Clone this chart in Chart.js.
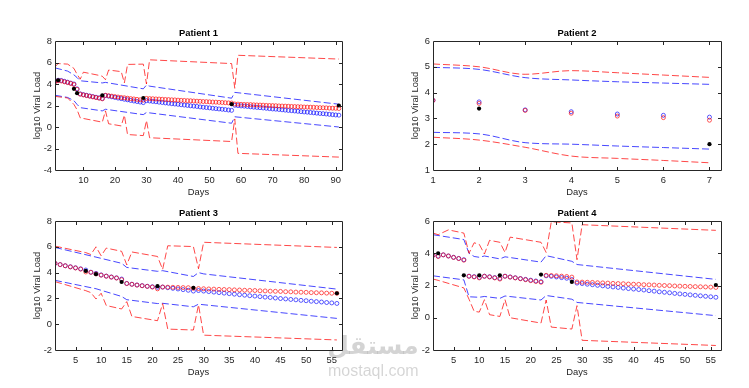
<!DOCTYPE html>
<html><head><meta charset="utf-8">
<script src="https://cdn.jsdelivr.net/npm/chart.js@4.4.0/dist/chart.umd.min.js"></script>
<style>
html,body{margin:0;padding:0;background:#fff;width:749px;height:388px;overflow:hidden;position:relative}
canvas{position:absolute}
.wm{position:absolute;color:rgba(0,0,0,0.17);pointer-events:none;white-space:nowrap;z-index:5}
</style></head><body>
<canvas id="c1" width="349" height="186" style="left:0px;top:16px"></canvas>
<canvas id="c2" width="350" height="186" style="left:378px;top:16px"></canvas>
<canvas id="c3" width="349" height="186" style="left:0px;top:196px"></canvas>
<canvas id="c4" width="350" height="186" style="left:378px;top:196px"></canvas>
<div class="wm" style="left:326px;top:331px;width:94px;text-align:center;font:bold 25px 'DejaVu Sans',sans-serif;line-height:30px">مستقل</div>
<div class="wm" style="left:328px;top:362px;font:16px 'Liberation Sans',Arial,sans-serif;line-height:18px">mostaql.com</div>
<script>
// ---------- Patient 1 (days 1..91) ----------
const p1Red = [4.20,4.30,4.28,4.20,4.13,4.05,3.95,3.50,3.05,2.98,
 2.92,2.86,2.80,2.74,2.68,2.62,2.95,2.91,2.87,2.83,
 2.79,2.75,2.72,2.68,2.64,2.61,2.57,2.53,2.50,2.66,
 2.64,2.63,2.61,2.60,2.58,2.56,2.55,2.53,2.52,2.50,
 2.48,2.47,2.45,2.44,2.42,2.40,2.39,2.37,2.36,2.34,
 2.32,2.31,2.29,2.28,2.26,2.24,2.23,2.14,2.13,2.11,
 2.10,2.09,2.08,2.06,2.05,2.04,2.03,2.01,2.00,1.99,
 1.98,1.96,1.95,1.94,1.93,1.91,1.90,1.89,1.88,1.86,
 1.85,1.84,1.83,1.81,1.80,1.79,1.78,1.76,1.75,1.74,
 1.72];
const p1Blue = [4.25,4.35,4.33,4.25,4.17,4.08,4.00,3.55,3.08,3.01,
 2.95,2.89,2.83,2.77,2.71,2.65,2.93,2.87,2.81,2.75,
 2.69,2.64,2.58,2.53,2.47,2.42,2.37,2.32,2.27,2.45,
 2.42,2.38,2.35,2.31,2.28,2.24,2.21,2.17,2.14,2.11,
 2.07,2.04,2.01,1.97,1.94,1.91,1.87,1.84,1.81,1.78,
 1.74,1.71,1.68,1.65,1.62,1.58,1.55,2.02,1.99,1.96,
 1.94,1.91,1.88,1.85,1.82,1.80,1.77,1.74,1.71,1.68,
 1.66,1.63,1.60,1.57,1.54,1.52,1.49,1.46,1.43,1.40,
 1.38,1.35,1.32,1.29,1.26,1.24,1.21,1.18,1.15,1.12,
 1.10];
const p1Obs = [[2,4.35],[7,3.55],[8,3.15],[16,2.95],[29,2.70],[57,2.12],[91,2.00]];
const p1RedUpper = [[1,5.6],[2,5.9],[5,5.85],[7,5.45],[8,4.9],[9,4.45],[10,5.1],[15,4.8],[16,4.72],[17,4.4],[18,5.3],[22,5.15],[23,4.1],[24,5.82],[29,5.85],[30,4.0],[31,6.25],[57,5.9],[58,3.6],[59,6.67],[91,6.32]];
const p1RedLower = [[1,2.85],[5,2.7],[7,2.1],[8,1.6],[9,0.85],[16,0.45],[17,1.5],[18,0.3],[22,0.1],[23,1.1],[24,-0.7],[29,-0.8],[30,0.6],[31,-1.0],[57,-1.35],[58,0.75],[59,-2.45],[91,-2.8]];
const p1BlueUpper = [[1,5.5],[5,5.2],[7,4.85],[8,4.6],[9,4.3],[16,4.1],[17,4.15],[29,3.55],[30,3.9],[31,3.8],[57,2.68],[58,3.22],[91,2.12]];
const p1BlueLower = [[1,2.95],[5,2.75],[7,2.45],[8,2.1],[9,1.8],[16,1.5],[17,1.65],[29,1.15],[30,1.35],[57,0.35],[58,0.95],[91,0.0]];

// ---------- Patient 2 (days 1..7) ----------
const p2Red = [3.70,3.58,3.31,3.20,3.09,3.03,2.93];
const p2Blue = [3.70,3.64,3.33,3.26,3.17,3.12,3.05];
const p2Obs = [[2,3.38],[7,2.00]];
const p2RedUpper = [[1,5.11],[2,5.0],[3,4.71],[4,4.85],[5,4.77],[6,4.68],[7,4.59]];
const p2RedLower = [[1,2.27],[2,2.16],[3,1.88],[4,1.54],[5,1.45],[6,1.37],[7,1.28]];
const p2BlueUpper = [[1,4.98],[2,4.9],[3,4.58],[4,4.49],[5,4.42],[6,4.37],[7,4.32]];
const p2BlueLower = [[1,2.46],[2,2.4],[3,2.06],[4,2.0],[5,1.93],[6,1.87],[7,1.81]];

// ---------- Patient 3 (days 1..56) ----------
const p3Red = [4.72,4.62,4.53,4.44,4.36,4.27,4.05,4.02,3.90,3.80,
 3.72,3.65,3.58,3.45,3.15,3.09,3.03,2.98,2.93,2.88,
 2.74,2.88,2.87,2.86,2.85,2.84,2.83,2.78,2.76,2.75,
 2.73,2.72,2.70,2.69,2.68,2.66,2.65,2.63,2.62,2.61,
 2.59,2.58,2.56,2.55,2.54,2.52,2.51,2.49,2.48,2.47,
 2.45,2.44,2.43,2.41,2.40,2.39];
const p3Blue = [4.72,4.62,4.53,4.45,4.37,4.29,4.20,4.03,3.94,3.82,
 3.73,3.66,3.59,3.50,3.16,3.10,3.04,2.99,2.94,2.90,
 2.86,2.88,2.83,2.78,2.73,2.68,2.63,2.57,2.61,2.57,
 2.53,2.49,2.45,2.41,2.37,2.33,2.29,2.25,2.21,2.18,
 2.14,2.10,2.07,2.03,1.99,1.96,1.92,1.89,1.85,1.82,
 1.78,1.75,1.72,1.68,1.65,1.61];
const p3Obs = [[7,4.13],[9,3.88],[14,3.27],[21,2.95],[28,2.82],[56,2.40]];
const p3RedUpper = [[1,6.05],[7,5.55],[8,5.4],[9,6.0],[10,5.3],[11,5.9],[14,5.65],[15,4.6],[16,5.6],[21,5.25],[22,4.25],[23,6.08],[28,6.02],[29,4.3],[30,6.35],[56,5.95]];
const p3RedLower = [[1,3.3],[7,2.6],[8,2.45],[9,1.95],[10,2.4],[11,1.45],[14,1.18],[15,1.75],[16,0.6],[21,0.27],[22,1.6],[23,-0.38],[28,-0.45],[29,1.5],[30,-0.85],[56,-1.22]];
const p3BlueUpper = [[1,5.95],[9,5.2],[14,4.72],[15,4.4],[21,4.1],[22,4.15],[28,3.7],[29,4.0],[30,3.9],[56,2.72]];
const p3BlueLower = [[1,3.4],[9,2.75],[14,2.15],[15,1.9],[21,1.6],[22,1.62],[28,1.35],[29,1.55],[56,0.45]];

// ---------- Patient 4 (days 1..56) ----------
const p4Red = [3.87,3.80,3.90,3.83,3.74,3.67,3.57,2.57,2.53,2.47,
 2.57,2.53,2.47,2.40,2.57,2.52,2.47,2.42,2.36,2.30,
 2.25,2.20,2.63,2.62,2.60,2.58,2.56,2.52,2.22,2.21,
 2.20,2.19,2.17,2.16,2.15,2.13,2.12,2.11,2.09,2.08,
 2.07,2.05,2.04,2.03,2.01,2.00,1.99,1.97,1.96,1.95,
 1.94,1.93,1.92,1.91,1.90,1.88];
const p4Blue = [3.87,3.82,3.90,3.83,3.75,3.68,3.60,2.58,2.55,2.50,
 2.58,2.54,2.49,2.44,2.58,2.53,2.48,2.43,2.38,2.33,
 2.28,2.24,2.60,2.57,2.53,2.49,2.45,2.37,2.15,2.12,
 2.08,2.05,2.01,1.98,1.94,1.91,1.88,1.84,1.81,1.78,
 1.75,1.72,1.68,1.65,1.61,1.58,1.55,1.51,1.48,1.45,
 1.42,1.39,1.36,1.33,1.30,1.27];
const p4Obs = [[2,4.00],[7,2.63],[10,2.63],[14,2.63],[22,2.68],[28,2.22],[56,2.03]];
const p4RedUpper = [[1,5.25],[2,5.15],[4,5.45],[7,5.25],[8,4.0],[9,4.65],[10,4.55],[11,3.95],[12,4.8],[14,4.68],[15,4.05],[16,5.0],[22,4.68],[23,4.05],[24,5.95],[28,5.88],[29,3.6],[30,5.77],[56,5.42]];
const p4RedLower = [[1,2.4],[2,2.32],[7,1.85],[8,1.15],[9,0.4],[10,0.35],[11,1.12],[12,0.19],[14,0.08],[15,1.12],[16,0.0],[22,-0.33],[23,1.1],[24,-0.58],[28,-0.7],[29,0.75],[30,-1.4],[56,-1.72]];
const p4BlueUpper = [[1,5.15],[7,4.85],[8,4.0],[9,3.8],[10,3.75],[11,3.83],[14,3.65],[15,3.78],[22,3.45],[23,3.85],[28,3.5],[29,3.3],[56,2.38]];
const p4BlueLower = [[1,2.6],[7,2.35],[8,1.3],[10,1.27],[11,1.32],[14,1.2],[15,1.35],[22,1.1],[23,1.38],[28,1.15],[29,0.95],[56,0.13]];

// ---------- axes ----------
const p1XTicks = [10,20,30,40,50,60,70,80,90];
const p2XTicks = [1,2,3,4,5,6,7];
const p34XTicks = [5,10,15,20,25,30,35,40,45,50,55];
const p1YTicks = [-4,-2,0,2,4,6,8];
const p2YTicks = [1,2,3,4,5,6];
const p3YTicks = [-2,0,2,4,6,8];
const p4YTicks = [-2,0,2,4,6];

const FONT = '"Liberation Sans", Arial, Helvetica, sans-serif';
const FS = 9.4;
const TXT = '#262626';
const RED = 'rgba(255,0,0,0.72)';
const BLUE = 'rgba(0,0,255,0.72)';

const pairs = a => a.map(p => ({x:p[0], y:p[1]}));
const daily = a => a.map((v,i) => ({x:i+1, y:v}));

function lineDs(arr, color, smooth){
  return {data:pairs(arr), showLine:true, borderColor:color, borderWidth:1, borderDash:[7,3],
    pointRadius:0, tension:0, cubicInterpolationMode: smooth ? 'monotone' : 'default', fill:false};
}
function circleDs(arr, color){
  return {data:daily(arr), showLine:false, pointRadius:2, pointBorderWidth:0.9,
    pointBorderColor:color, pointBackgroundColor:'rgba(0,0,0,0)', borderColor:color, backgroundColor:'rgba(0,0,0,0)'};
}
function obsDs(arr){
  return {data:pairs(arr), showLine:false, pointRadius:2.1, pointBorderWidth:0,
    pointBackgroundColor:'#000', backgroundColor:'#000', borderColor:'#000'};
}

const framePlugin = {
  id:'frame',
  afterDatasetsDraw(chart, args, opts){
    const {ctx, chartArea:a, scales:{x, y}} = chart;
    ctx.save();
    ctx.strokeStyle = TXT; ctx.lineWidth = 1;
    ctx.beginPath();
    ctx.rect(a.left+0.5, a.top+0.5, a.right-a.left, a.bottom-a.top);
    x.ticks.forEach(t => {
      const px = Math.round(x.getPixelForValue(t.value))+0.5;
      ctx.moveTo(px, a.bottom); ctx.lineTo(px, a.bottom-3);
      ctx.moveTo(px, a.top+1); ctx.lineTo(px, a.top+4);
    });
    y.ticks.forEach(t => {
      const py = Math.round(y.getPixelForValue(t.value))+0.5;
      ctx.moveTo(a.left+1, py); ctx.lineTo(a.left+4, py);
      ctx.moveTo(a.right, py); ctx.lineTo(a.right-3, py);
    });
    ctx.stroke();
    ctx.fillStyle = '#000';
    ctx.font = 'bold ' + FS + 'px ' + FONT;
    ctx.textAlign = 'center'; ctx.textBaseline = 'middle';
    ctx.fillText(opts.text, (a.left+a.right)/2, a.top-8);
    ctx.restore();
  }
};

function makeChart(id, title, red, blue, obs, rU, rL, bU, bL, xMin, xMax, xTicks, yMin, yMax, yTicks, smooth){
  const datasets = [
    obsDs(obs),
    circleDs(red, RED),
    circleDs(blue, BLUE),
    lineDs(rU, RED, smooth), lineDs(rL, RED, smooth),
    lineDs(bU, BLUE, smooth), lineDs(bL, BLUE, smooth)
  ];
  new Chart(document.getElementById(id), {
    type:'scatter',
    data:{datasets},
    options:{
      responsive:false, animation:false, devicePixelRatio:1,
      layout:{padding:{left:0, top:25, right:7, bottom:0}},
      plugins:{legend:{display:false}, tooltip:{enabled:false}, title:{display:false}, frame:{text:title}},
      scales:{
        x:{type:'linear', min:xMin, max:xMax,
          grid:{display:false, drawTicks:false}, border:{display:false},
          ticks:{font:{family:FONT, size:FS}, color:TXT, padding:5, autoSkip:false, maxRotation:0, minRotation:0, callback:v => String(v)},
          afterBuildTicks: s => { s.ticks = xTicks.map(v => ({value:v})); },
          afterFit: s => { s.height = 32; },
          title:{display:true, text:'Days', color:TXT, font:{family:FONT, size:FS, lineHeight:1.2}, padding:{top:0, bottom:4.4}}
        },
        y:{type:'linear', min:yMin, max:yMax,
          grid:{display:false, drawTicks:false}, border:{display:false},
          ticks:{font:{family:FONT, size:FS}, color:TXT, padding:3, autoSkip:false, callback:v => String(v)},
          afterBuildTicks: s => { s.ticks = yTicks.map(v => ({value:v})); },
          afterFit: s => { s.width = 55; },
          title:{display:true, text:'log10 Viral Load', color:TXT, font:{family:FONT, size:FS, lineHeight:1.2}, padding:{top:31.4, bottom:0}}
        }
      }
    },
    plugins:[framePlugin]
  });
}

makeChart('c1','Patient 1', p1Red, p1Blue, p1Obs, p1RedUpper, p1RedLower, p1BlueUpper, p1BlueLower, 1, 92, p1XTicks, -4, 8, p1YTicks, false);
makeChart('c2','Patient 2', p2Red, p2Blue, p2Obs, p2RedUpper, p2RedLower, p2BlueUpper, p2BlueLower, 1, 7.25, p2XTicks, 1, 6, p2YTicks, true);
makeChart('c3','Patient 3', p3Red, p3Blue, p3Obs, p3RedUpper, p3RedLower, p3BlueUpper, p3BlueLower, 1, 57, p34XTicks, -2, 8, p3YTicks, false);
makeChart('c4','Patient 4', p4Red, p4Blue, p4Obs, p4RedUpper, p4RedLower, p4BlueUpper, p4BlueLower, 1, 57, p34XTicks, -2, 6, p4YTicks, false);
</script>
</body></html>
